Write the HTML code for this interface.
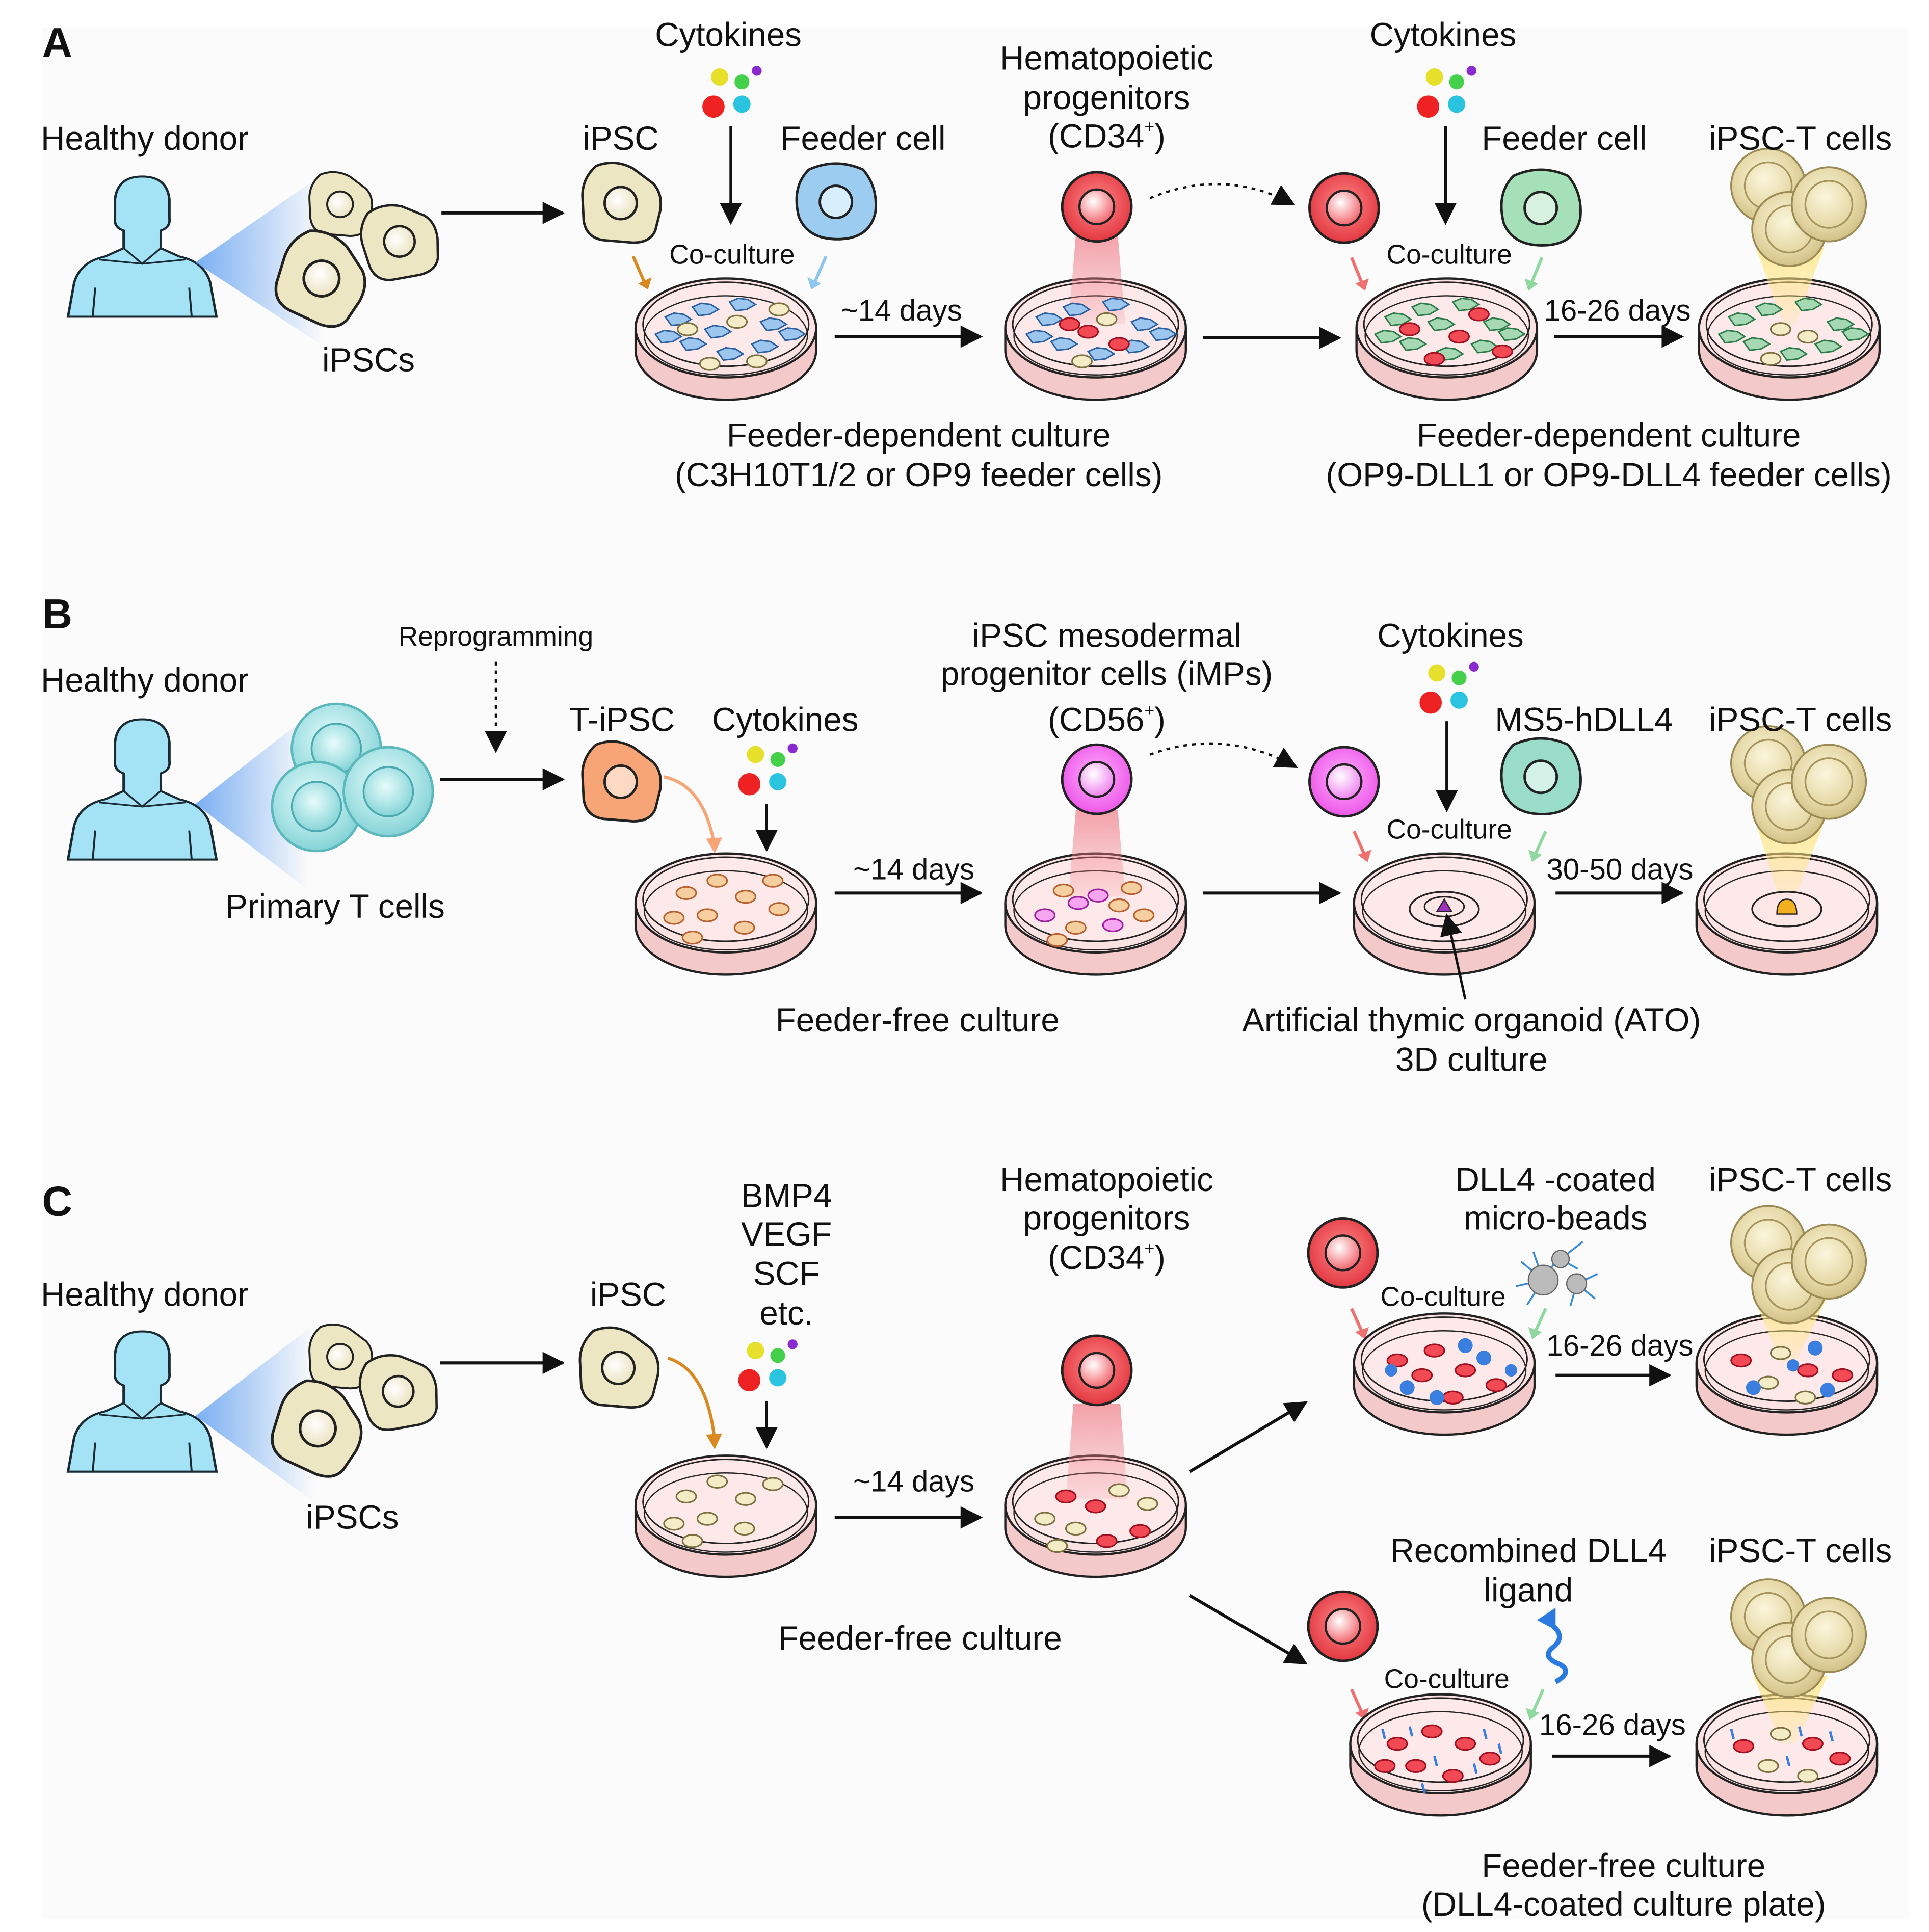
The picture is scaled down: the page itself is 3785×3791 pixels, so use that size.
<!DOCTYPE html>
<html><head><meta charset="utf-8"><style>
html,body{margin:0;padding:0;background:#fff;}
svg{display:block;}
text{font-family:"Liberation Sans",Arial,sans-serif;fill:#111;}
</style></head><body>
<svg width="3785" height="3791" viewBox="0 0 1560 1562" xmlns="http://www.w3.org/2000/svg">
<defs>
<radialGradient id="nuc" cx="0.4" cy="0.4" r="0.7"><stop offset="0" stop-color="#fff"/><stop offset="1" stop-color="#e8dfb8"/></radialGradient>
<radialGradient id="redg" cx="0.5" cy="0.45" r="0.6"><stop offset="0" stop-color="#ff8a8a"/><stop offset="1" stop-color="#e0303a"/></radialGradient>
<radialGradient id="redn" cx="0.4" cy="0.35" r="0.7"><stop offset="0" stop-color="#fff"/><stop offset="1" stop-color="#f25c64"/></radialGradient>
<radialGradient id="magg" cx="0.5" cy="0.45" r="0.6"><stop offset="0" stop-color="#ffb0ff"/><stop offset="1" stop-color="#ec4fe6"/></radialGradient>
<radialGradient id="magn" cx="0.4" cy="0.35" r="0.7"><stop offset="0" stop-color="#fff"/><stop offset="1" stop-color="#f07cf0"/></radialGradient>
<radialGradient id="teal" cx="0.45" cy="0.4" r="0.65"><stop offset="0" stop-color="#e8fbfb"/><stop offset="0.6" stop-color="#a9e3e5"/><stop offset="1" stop-color="#7ccfd3"/></radialGradient>
<radialGradient id="tan" cx="0.45" cy="0.4" r="0.65"><stop offset="0" stop-color="#fbf6dc"/><stop offset="0.6" stop-color="#e6d9a8"/><stop offset="1" stop-color="#cdbb80"/></radialGradient>
<linearGradient id="cone" x1="0" x2="1"><stop offset="0" stop-color="#5a9cf0"/><stop offset="1" stop-color="#5a9cf0" stop-opacity="0"/></linearGradient>
<linearGradient id="pcone" x1="0" y1="0" x2="0" y2="1"><stop offset="0" stop-color="#f07a85" stop-opacity="0.7"/><stop offset="1" stop-color="#f07a85" stop-opacity="0.15"/></linearGradient>
<linearGradient id="ycone" x1="0" y1="0" x2="0" y2="1"><stop offset="0" stop-color="#ffe680" stop-opacity="0.8"/><stop offset="1" stop-color="#ffe680" stop-opacity="0.2"/></linearGradient>
<marker id="ahb" viewBox="0 0 10 10" markerWidth="22" markerHeight="18" refX="9" refY="5" orient="auto" markerUnits="userSpaceOnUse"><path d="M0,0 L10,5 L0,10 z" fill="#111"/></marker>
<g id="person">
 <path d="M0,113 L5,80 Q10,60 30,55 L45,47 L45,30 Q37,27 38,18 L38,0 Q40,-22 60,-22 Q80,-22 82,0 L82,18 Q83,27 75,30 L75,47 L90,55 Q110,60 115,80 L120,113 Z" fill="#a4e3f5" stroke="#1a2a33" stroke-width="2"/>
 <path d="M45,47 L60,62 L75,47 M25,58 L60,62 L95,58 M20,113 L22,85 M100,113 L98,85" fill="none" stroke="#1a2a33" stroke-width="1.6"/>
</g>
<g id="ipsc">
 <path d="M-20,-30 Q-5,-36 10,-28 L26,-16 Q34,-8 32,6 L28,22 Q24,32 10,32 L-14,30 Q-28,28 -30,14 L-31,-6 Q-31,-20 -20,-30 Z" fill="#ede6c2" stroke="#222" stroke-width="2"/>
 <circle r="13" fill="url(#nuc)" stroke="#222" stroke-width="2"/>
</g>
<g id="red"><circle r="28" fill="url(#redg)" stroke="#222" stroke-width="2"/><circle r="14" fill="url(#redn)" stroke="#222" stroke-width="1.8"/></g>
<g id="mag"><circle r="28" fill="url(#magg)" stroke="#222" stroke-width="2"/><circle r="14" fill="url(#magn)" stroke="#222" stroke-width="1.8"/></g>
<g id="feedB"><path d="M-22,-26 Q0,-36 22,-26 Q34,-12 32,8 Q28,28 6,30 Q-22,32 -30,12 Q-36,-12 -22,-26Z" fill="#9ccdf0" stroke="#222" stroke-width="2"/><circle r="13" fill="#d8eefc" stroke="#222" stroke-width="2"/></g>
<g id="feedG"><path d="M-22,-26 Q0,-36 22,-26 Q34,-12 32,8 Q28,28 6,30 Q-22,32 -30,12 Q-36,-12 -22,-26Z" fill="#a6e0b8" stroke="#222" stroke-width="2"/><circle r="13" fill="#d6f2de" stroke="#222" stroke-width="2"/></g>
<g id="feedT"><path d="M-22,-26 Q0,-36 22,-26 Q34,-12 32,8 Q28,28 6,30 Q-22,32 -30,12 Q-36,-12 -22,-26Z" fill="#99dcc8" stroke="#222" stroke-width="2"/><circle r="13" fill="#d3f1e6" stroke="#222" stroke-width="2"/></g>
<g id="orange"><path d="M-20,-30 Q-5,-36 10,-28 L26,-16 Q34,-8 32,6 L28,22 Q24,32 10,32 L-14,30 Q-28,28 -30,14 L-31,-6 Q-31,-20 -20,-30 Z" fill="#f7a577" stroke="#222" stroke-width="2"/><circle r="13" fill="#fcd9c2" stroke="#222" stroke-width="2"/></g>
<g id="teals"><circle r="36" fill="url(#teal)" stroke="#5bb8bd" stroke-width="2"/><circle r="20" fill="url(#teal)" stroke="#4aaab0" stroke-width="1.5"/></g>
<g id="dish">
 <path d="M-73,0 L-73,18 A73,40 0 0 0 73,18 L73,0" fill="#f4c9c9" stroke="#222" stroke-width="1.8"/>
 <ellipse cx="0" cy="0" rx="73" ry="40" fill="#fbe2e2" stroke="#222" stroke-width="1.8"/>
 <ellipse cx="0" cy="-3" rx="67" ry="34" fill="#fde9e9" stroke="#222" stroke-width="1.2"/>
 <ellipse cx="0" cy="6" rx="66" ry="32" fill="none" stroke="#222" stroke-width="1"/>
</g>
<g id="mc"><ellipse rx="8" ry="5" fill="#f6cfa0" stroke="#b86030" stroke-width="1.3"/></g>
<g id="rc"><ellipse rx="8" ry="5" fill="#f24a55" stroke="#a01020" stroke-width="1.3"/></g>
<g id="yc"><ellipse rx="8" ry="5" fill="#f3ecc6" stroke="#7a7040" stroke-width="1.3"/></g>
<g id="pc"><ellipse rx="8" ry="5" fill="#f6a6f0" stroke="#a020a0" stroke-width="1.3"/></g>
<g id="bc"><path d="M-10,-2 L-3,-5 L5,-4 L11,0 L4,4 L-5,5 Z" fill="#9cc6ee" stroke="#2a5fa0" stroke-width="1.2"/></g>
<g id="gc"><path d="M-10,-2 L-3,-5 L5,-4 L11,0 L4,4 L-5,5 Z" fill="#a6d8b4" stroke="#2a7a48" stroke-width="1.2"/></g>
<g id="dots">
 <circle cx="-8" cy="-22" r="7" fill="#e6e02a"/><circle cx="10" cy="-18" r="6" fill="#44d04a"/><circle cx="22" cy="-27" r="4" fill="#8a2ad0"/>
 <circle cx="-13" cy="2" r="9" fill="#ee2222"/><circle cx="10" cy="0" r="7" fill="#2ac4e0"/>
</g>
<g id="cluster">
 <circle cx="-17" cy="-15" r="30" fill="url(#tan)" stroke="#9a8a55" stroke-width="1.5"/><circle cx="-17" cy="-15" r="19" fill="none" stroke="#a8955d" stroke-width="1.4"/>
 <circle cx="0" cy="20" r="30" fill="url(#tan)" stroke="#9a8a55" stroke-width="1.5"/><circle cx="0" cy="20" r="19" fill="none" stroke="#a8955d" stroke-width="1.4"/>
 <circle cx="32" cy="0" r="30" fill="url(#tan)" stroke="#9a8a55" stroke-width="1.5"/><circle cx="32" cy="0" r="19" fill="none" stroke="#a8955d" stroke-width="1.4"/>
</g>
</defs>

<rect x="0" y="0" width="1560" height="1562" fill="#fff"/>
<rect x="34" y="22" width="1510" height="1530" fill="#fbfbfb"/>

<!-- ============ PANEL A ============ -->
<text x="34" y="46" font-size="34" font-weight="bold" fill="#333">A</text>
<text x="33" y="121" font-size="27">Healthy donor</text>
<g transform="translate(55,161) scale(1,0.84)"><use href="#person"/></g>
<polygon points="158,212 262,140 262,280" fill="url(#cone)" opacity="0.8"/>
<g transform="translate(275,165) scale(0.8)"><use href="#ipsc"/></g>
<g transform="translate(260,225) scale(1.1) rotate(20)"><use href="#ipsc"/></g>
<g transform="translate(323,195) scale(0.95) rotate(-15)"><use href="#ipsc"/></g>
<text x="298" y="300" font-size="27" text-anchor="middle">iPSCs</text>
<line x1="357" y1="172" x2="455" y2="172" stroke="#111" stroke-width="2.5" marker-end="url(#ahb)"/>
<text x="502" y="121" font-size="27" text-anchor="middle">iPSC</text>
<use href="#ipsc" x="502" y="164"/>
<text x="589" y="37" font-size="27" text-anchor="middle">Cytokines</text>
<use href="#dots" x="590" y="84"/>
<line x1="591" y1="102" x2="591" y2="180" stroke="#111" stroke-width="2.2" marker-end="url(#ahb)"/>
<text x="698" y="121" font-size="27" text-anchor="middle">Feeder cell</text>
<use href="#feedB" x="676" y="163"/>
<text x="592" y="213" font-size="22" text-anchor="middle">Co-culture</text>
<line x1="512" y1="207" x2="522" y2="230" stroke="#d88a20" stroke-width="2.5"/><path d="M516,229 L524,234 L527,224z" fill="#d88a20"/>
<line x1="668" y1="207" x2="658" y2="230" stroke="#8ec6ee" stroke-width="2.5"/><path d="M653,224 L656,234 L664,229z" fill="#8ec6ee"/>

<use href="#dish" x="587" y="265"/>
<g>
<use href="#bc" x="548" y="258"/><use href="#bc" x="570" y="250"/><use href="#bc" x="600" y="246"/><use href="#bc" x="625" y="262"/><use href="#bc" x="560" y="278"/><use href="#bc" x="590" y="286"/><use href="#bc" x="618" y="280"/><use href="#bc" x="540" y="272"/><use href="#bc" x="640" y="270"/><use href="#bc" x="580" y="268"/>
<use href="#yc" x="556" y="266"/><use href="#yc" x="596" y="260"/><use href="#yc" x="612" y="292"/><use href="#yc" x="574" y="294"/><use href="#yc" x="630" y="250"/>
</g>
<text x="729" y="259" font-size="24" text-anchor="middle">~14 days</text>
<line x1="675" y1="272" x2="793" y2="272" stroke="#111" stroke-width="2.5" marker-end="url(#ahb)"/>

<use href="#dish" x="886" y="265"/>
<polygon points="870,190 904,190 910,262 864,262" fill="url(#pcone)"/>
<use href="#red" x="887" y="167"/>
<g>
<use href="#bc" x="848" y="258"/><use href="#bc" x="870" y="250"/><use href="#bc" x="902" y="246"/><use href="#bc" x="925" y="262"/><use href="#bc" x="860" y="278"/><use href="#bc" x="890" y="286"/><use href="#bc" x="918" y="280"/><use href="#bc" x="840" y="272"/><use href="#bc" x="940" y="270"/>
<use href="#rc" x="880" y="268"/><use href="#rc" x="905" y="278"/><use href="#rc" x="865" y="262"/><use href="#yc" x="895" y="258"/><use href="#yc" x="875" y="292"/>
</g>
<text x="895" y="56" font-size="27" text-anchor="middle">Hematopoietic</text>
<text x="895" y="88" font-size="27" text-anchor="middle">progenitors</text>
<text x="895" y="119" font-size="27" text-anchor="middle">(CD34<tspan font-size="14" dy="-12">+</tspan><tspan dy="12">)</tspan></text>
<path d="M930,160 Q990,135 1046,165" fill="none" stroke="#111" stroke-width="1.8" stroke-dasharray="3,4" marker-end="url(#ahb)"/>
<line x1="973" y1="273" x2="1083" y2="273" stroke="#111" stroke-width="2.5" marker-end="url(#ahb)"/>

<use href="#red" x="1087" y="168"/>
<text x="1167" y="37" font-size="27" text-anchor="middle">Cytokines</text>
<use href="#dots" x="1168" y="84"/>
<line x1="1169" y1="102" x2="1169" y2="180" stroke="#111" stroke-width="2.2" marker-end="url(#ahb)"/>
<text x="1265" y="121" font-size="27" text-anchor="middle">Feeder cell</text>
<use href="#feedG" x="1246" y="168"/>
<text x="1172" y="213" font-size="22" text-anchor="middle">Co-culture</text>
<line x1="1093" y1="208" x2="1102" y2="230" stroke="#f07070" stroke-width="2.5"/><path d="M1096,229 L1104,235 L1107,225z" fill="#f07070"/>
<line x1="1247" y1="208" x2="1238" y2="230" stroke="#8fd8a0" stroke-width="2.5"/><path d="M1233,225 L1236,235 L1244,229z" fill="#8fd8a0"/>
<use href="#dish" x="1170" y="265"/>
<g>
<use href="#gc" x="1130" y="258"/><use href="#gc" x="1152" y="250"/><use href="#gc" x="1185" y="246"/><use href="#gc" x="1210" y="262"/><use href="#gc" x="1142" y="278"/><use href="#gc" x="1172" y="286"/><use href="#gc" x="1200" y="280"/><use href="#gc" x="1122" y="272"/><use href="#gc" x="1222" y="270"/><use href="#gc" x="1165" y="262"/>
<use href="#rc" x="1140" y="266"/><use href="#rc" x="1180" y="272"/><use href="#rc" x="1196" y="254"/><use href="#rc" x="1160" y="290"/><use href="#rc" x="1215" y="284"/>
</g>
<text x="1308" y="259" font-size="24" text-anchor="middle">16-26 days</text>
<line x1="1257" y1="272" x2="1360" y2="272" stroke="#111" stroke-width="2.5" marker-end="url(#ahb)"/>
<use href="#dish" x="1447" y="265"/>
<polygon points="1420,200 1475,200 1452,262 1442,262" fill="url(#ycone)"/>
<g>
<use href="#gc" x="1408" y="258"/><use href="#gc" x="1430" y="250"/><use href="#gc" x="1462" y="246"/><use href="#gc" x="1488" y="262"/><use href="#gc" x="1420" y="278"/><use href="#gc" x="1450" y="286"/><use href="#gc" x="1478" y="280"/><use href="#gc" x="1400" y="272"/><use href="#gc" x="1500" y="270"/>
<use href="#yc" x="1440" y="266"/><use href="#yc" x="1462" y="272"/><use href="#yc" x="1432" y="290"/>
</g>
<use href="#cluster" x="1447" y="165"/>
<text x="1456" y="121" font-size="27" text-anchor="middle">iPSC-T cells</text>
<text x="743" y="361" font-size="27" text-anchor="middle">Feeder-dependent culture</text>
<text x="743" y="393" font-size="27" text-anchor="middle">(C3H10T1/2 or OP9 feeder cells)</text>
<text x="1301" y="361" font-size="27" text-anchor="middle">Feeder-dependent culture</text>
<text x="1301" y="393" font-size="27" text-anchor="middle">(OP9-DLL1 or OP9-DLL4 feeder cells)</text>

<!-- ============ PANEL B ============ -->
<text x="34" y="508" font-size="34" font-weight="bold" fill="#333">B</text>
<text x="401" y="522" font-size="22" text-anchor="middle">Reprogramming</text>
<line x1="401" y1="535" x2="401" y2="607" stroke="#111" stroke-width="1.8" stroke-dasharray="3,4" marker-end="url(#ahb)"/>
<text x="33" y="559" font-size="27">Healthy donor</text>
<g transform="translate(55,600) scale(1,0.84)"><use href="#person"/></g>
<polygon points="158,650 250,578 250,720" fill="url(#cone)" opacity="0.8"/>
<use href="#teals" x="272" y="605"/>
<use href="#teals" x="256" y="652"/>
<use href="#teals" x="314" y="640"/>
<text x="271" y="742" font-size="27" text-anchor="middle">Primary T cells</text>
<line x1="356" y1="630" x2="455" y2="630" stroke="#111" stroke-width="2.5" marker-end="url(#ahb)"/>
<text x="503" y="591" font-size="27" text-anchor="middle">T-iPSC</text>
<use href="#orange" x="502" y="632"/>
<path d="M537,628 Q570,635 578,685" fill="none" stroke="#f7a577" stroke-width="2.5"/><path d="M571,678 L578,690 L584,677z" fill="#f7a577"/>
<text x="635" y="591" font-size="27" text-anchor="middle">Cytokines</text>
<use href="#dots" x="619" y="632"/>
<line x1="620" y1="650" x2="620" y2="687" stroke="#111" stroke-width="2.2" marker-end="url(#ahb)"/>
<use href="#dish" x="587" y="730"/>
<g>
<use href="#mc" x="555" y="722"/><use href="#mc" x="580" y="712"/><use href="#mc" x="603" y="725"/><use href="#mc" x="625" y="712"/><use href="#mc" x="572" y="740"/><use href="#mc" x="602" y="750"/><use href="#mc" x="545" y="742"/><use href="#mc" x="630" y="735"/><use href="#mc" x="560" y="758"/>
</g>
<text x="739" y="711" font-size="24" text-anchor="middle">~14 days</text>
<line x1="675" y1="722" x2="793" y2="722" stroke="#111" stroke-width="2.5" marker-end="url(#ahb)"/>
<use href="#dish" x="886" y="730"/>
<polygon points="870,655 904,655 910,725 864,725" fill="url(#pcone)"/>
<g>
<use href="#pc" x="845" y="740"/><use href="#pc" x="872" y="730"/><use href="#pc" x="900" y="748"/><use href="#pc" x="888" y="724"/><use href="#mc" x="860" y="720"/><use href="#mc" x="905" y="732"/><use href="#mc" x="925" y="740"/><use href="#mc" x="870" y="750"/><use href="#mc" x="915" y="718"/><use href="#mc" x="855" y="760"/>
</g>
<use href="#mag" x="887" y="630"/>
<text x="895" y="523" font-size="27" text-anchor="middle">iPSC mesodermal</text>
<text x="895" y="554" font-size="27" text-anchor="middle">progenitor cells (iMPs)</text>
<text x="895" y="591" font-size="27" text-anchor="middle">(CD56<tspan font-size="14" dy="-12">+</tspan><tspan dy="12">)</tspan></text>
<path d="M930,610 Q990,588 1048,620" fill="none" stroke="#111" stroke-width="1.8" stroke-dasharray="3,4" marker-end="url(#ahb)"/>
<line x1="973" y1="722" x2="1083" y2="722" stroke="#111" stroke-width="2.5" marker-end="url(#ahb)"/>
<use href="#mag" x="1087" y="632"/>
<text x="1173" y="523" font-size="27" text-anchor="middle">Cytokines</text>
<use href="#dots" x="1170" y="566"/>
<line x1="1170" y1="583" x2="1170" y2="655" stroke="#111" stroke-width="2.2" marker-end="url(#ahb)"/>
<text x="1281" y="591" font-size="27" text-anchor="middle">MS5-hDLL4</text>
<use href="#feedT" x="1246" y="628"/>
<text x="1172" y="678" font-size="22" text-anchor="middle">Co-culture</text>
<line x1="1095" y1="672" x2="1104" y2="692" stroke="#f07070" stroke-width="2.5"/><path d="M1098,691 L1106,697 L1109,687z" fill="#f07070"/>
<line x1="1250" y1="672" x2="1241" y2="692" stroke="#8fd8a0" stroke-width="2.5"/><path d="M1236,687 L1239,697 L1247,691z" fill="#8fd8a0"/>
<use href="#dish" x="1168" y="730"/>
<ellipse cx="1168" cy="735" rx="28" ry="14" fill="#fde6e6" stroke="#222" stroke-width="1.4"/>
<ellipse cx="1168" cy="733" rx="16" ry="8" fill="#fde6e6" stroke="#222" stroke-width="1.2"/>
<path d="M1162,737 L1168,727 L1174,737z" fill="#a030c0" stroke="#222" stroke-width="1"/>
<line x1="1185" y1="808" x2="1170" y2="740" stroke="#111" stroke-width="2" marker-end="url(#ahb)"/>
<text x="1310" y="711" font-size="24" text-anchor="middle">30-50 days</text>
<line x1="1258" y1="722" x2="1360" y2="722" stroke="#111" stroke-width="2.5" marker-end="url(#ahb)"/>
<use href="#dish" x="1445" y="730"/>
<polygon points="1420,665 1475,665 1450,730 1440,730" fill="url(#ycone)"/>
<ellipse cx="1445" cy="735" rx="28" ry="14" fill="#fde6e6" stroke="#222" stroke-width="1.4"/>
<path d="M1437,739 Q1437,727 1445,727 Q1453,727 1453,739z" fill="#f0b020" stroke="#222" stroke-width="1"/>
<use href="#cluster" x="1447" y="632"/>
<text x="1456" y="591" font-size="27" text-anchor="middle">iPSC-T cells</text>
<text x="742" y="834" font-size="27" text-anchor="middle">Feeder-free culture</text>
<text x="1190" y="834" font-size="27" text-anchor="middle">Artificial thymic organoid (ATO)</text>
<text x="1190" y="866" font-size="27" text-anchor="middle">3D culture</text>

<!-- ============ PANEL C ============ -->
<text x="34" y="983" font-size="34" font-weight="bold" fill="#333">C</text>
<text x="33" y="1056" font-size="27">Healthy donor</text>
<g transform="translate(55,1095) scale(1,0.84)"><use href="#person"/></g>
<polygon points="158,1145 255,1070 255,1215" fill="url(#cone)" opacity="0.8"/>
<g transform="translate(275,1097) scale(0.8)"><use href="#ipsc"/></g>
<g transform="translate(257,1155) scale(1.1) rotate(20)"><use href="#ipsc"/></g>
<g transform="translate(322,1125) scale(0.95) rotate(-15)"><use href="#ipsc"/></g>
<text x="285" y="1236" font-size="27" text-anchor="middle">iPSCs</text>
<line x1="356" y1="1102" x2="455" y2="1102" stroke="#111" stroke-width="2.5" marker-end="url(#ahb)"/>
<text x="508" y="1056" font-size="27" text-anchor="middle">iPSC</text>
<use href="#ipsc" x="500" y="1106"/>
<path d="M540,1098 Q572,1108 578,1165" fill="none" stroke="#d88a20" stroke-width="2.5"/><path d="M571,1160 L578,1172 L584,1159z" fill="#d88a20"/>
<text x="636" y="976" font-size="27" text-anchor="middle">BMP4</text>
<text x="636" y="1007" font-size="27" text-anchor="middle">VEGF</text>
<text x="636" y="1039" font-size="27" text-anchor="middle">SCF</text>
<text x="636" y="1071" font-size="27" text-anchor="middle">etc.</text>
<use href="#dots" x="619" y="1114"/>
<line x1="620" y1="1133" x2="620" y2="1170" stroke="#111" stroke-width="2.2" marker-end="url(#ahb)"/>
<use href="#dish" x="587" y="1217"/>
<g>
<use href="#yc" x="555" y="1210"/><use href="#yc" x="580" y="1198"/><use href="#yc" x="603" y="1212"/><use href="#yc" x="625" y="1200"/><use href="#yc" x="572" y="1228"/><use href="#yc" x="602" y="1236"/><use href="#yc" x="545" y="1232"/><use href="#yc" x="560" y="1246"/>
</g>
<text x="739" y="1206" font-size="24" text-anchor="middle">~14 days</text>
<line x1="675" y1="1227" x2="793" y2="1227" stroke="#111" stroke-width="2.5" marker-end="url(#ahb)"/>
<use href="#dish" x="886" y="1217"/>
<polygon points="868,1135 906,1135 912,1212 862,1212" fill="url(#pcone)"/>
<g>
<use href="#yc" x="845" y="1228"/><use href="#rc" x="862" y="1210"/><use href="#rc" x="886" y="1218"/><use href="#yc" x="905" y="1205"/><use href="#yc" x="928" y="1216"/><use href="#yc" x="870" y="1236"/><use href="#rc" x="895" y="1246"/><use href="#rc" x="922" y="1238"/><use href="#yc" x="855" y="1250"/>
</g>
<use href="#red" x="887" y="1108"/>
<text x="895" y="963" font-size="27" text-anchor="middle">Hematopoietic</text>
<text x="895" y="994" font-size="27" text-anchor="middle">progenitors</text>
<text x="895" y="1026" font-size="27" text-anchor="middle">(CD34<tspan font-size="14" dy="-12">+</tspan><tspan dy="12">)</tspan></text>
<text x="744" y="1334" font-size="27" text-anchor="middle">Feeder-free culture</text>
<line x1="962" y1="1190" x2="1056" y2="1134" stroke="#111" stroke-width="2.5" marker-end="url(#ahb)"/>
<line x1="962" y1="1290" x2="1056" y2="1345" stroke="#111" stroke-width="2.5" marker-end="url(#ahb)"/>

<!-- upper branch -->
<use href="#red" x="1086" y="1013"/>
<text x="1258" y="963" font-size="27" text-anchor="middle">DLL4 -coated</text>
<text x="1258" y="994" font-size="27" text-anchor="middle">micro-beads</text>
<g stroke="#3a8ad8" stroke-width="1.5">
<line x1="1248" y1="1035" x2="1230" y2="1020"/><line x1="1248" y1="1035" x2="1226" y2="1040"/><line x1="1248" y1="1035" x2="1240" y2="1012"/><line x1="1248" y1="1035" x2="1262" y2="1014"/><line x1="1248" y1="1035" x2="1235" y2="1055"/><line x1="1275" y1="1038" x2="1292" y2="1030"/><line x1="1275" y1="1038" x2="1290" y2="1050"/><line x1="1275" y1="1038" x2="1270" y2="1056"/><line x1="1262" y1="1018" x2="1280" y2="1004"/><line x1="1262" y1="1018" x2="1276" y2="1026"/>
</g>
<circle cx="1248" cy="1035" r="12" fill="#bbb" stroke="#666"/><circle cx="1275" cy="1038" r="8" fill="#bbb" stroke="#666"/><circle cx="1262" cy="1018" r="7" fill="#bbb" stroke="#666"/>
<text x="1167" y="1056" font-size="22" text-anchor="middle">Co-culture</text>
<line x1="1093" y1="1058" x2="1102" y2="1078" stroke="#f07070" stroke-width="2.5"/><path d="M1096,1077 L1104,1083 L1107,1073z" fill="#f07070"/>
<line x1="1250" y1="1058" x2="1241" y2="1078" stroke="#8fd8a0" stroke-width="2.5"/><path d="M1236,1073 L1239,1083 L1247,1077z" fill="#8fd8a0"/>
<use href="#dish" x="1168" y="1102"/>
<g>
<use href="#rc" x="1130" y="1100"/><use href="#rc" x="1160" y="1092"/><use href="#rc" x="1150" y="1112"/><use href="#rc" x="1185" y="1108"/><use href="#rc" x="1175" y="1130"/><use href="#rc" x="1210" y="1120"/>
<g fill="#3a7ee0"><circle cx="1138" cy="1122" r="6"/><circle cx="1185" cy="1088" r="6"/><circle cx="1162" cy="1130" r="6"/><circle cx="1200" cy="1098" r="6"/><circle cx="1222" cy="1108" r="5"/><circle cx="1125" cy="1108" r="5"/></g>
</g>
<text x="1310" y="1096" font-size="24" text-anchor="middle">16-26 days</text>
<line x1="1258" y1="1112" x2="1350" y2="1112" stroke="#111" stroke-width="2.5" marker-end="url(#ahb)"/>
<use href="#dish" x="1445" y="1102"/>
<polygon points="1418,1048 1478,1048 1452,1102 1440,1102" fill="url(#ycone)"/>
<g>
<use href="#rc" x="1408" y="1100"/><use href="#yc" x="1440" y="1094"/><use href="#rc" x="1462" y="1108"/><use href="#yc" x="1430" y="1118"/><use href="#rc" x="1490" y="1112"/><use href="#yc" x="1460" y="1130"/>
<g fill="#3a7ee0"><circle cx="1418" cy="1122" r="6"/><circle cx="1468" cy="1090" r="6"/><circle cx="1478" cy="1124" r="6"/><circle cx="1450" cy="1104" r="5"/></g>
</g>
<use href="#cluster" x="1447" y="1020"/>
<text x="1456" y="963" font-size="27" text-anchor="middle">iPSC-T cells</text>

<!-- lower branch -->
<use href="#red" x="1086" y="1315"/>
<text x="1236" y="1263" font-size="27" text-anchor="middle">Recombined DLL4</text>
<text x="1236" y="1295" font-size="27" text-anchor="middle">ligand</text>
<path d="M1243,1310 L1258,1300 L1258,1318 Z" fill="#2a7ae0"/>
<path d="M1252,1312 Q1268,1322 1256,1332 Q1246,1340 1262,1346 Q1272,1352 1258,1360" fill="none" stroke="#2a7ae0" stroke-width="4"/>
<text x="1170" y="1365" font-size="22" text-anchor="middle">Co-culture</text>
<line x1="1093" y1="1366" x2="1102" y2="1386" stroke="#f07070" stroke-width="2.5"/><path d="M1096,1385 L1104,1391 L1107,1381z" fill="#f07070"/>
<line x1="1248" y1="1366" x2="1239" y2="1386" stroke="#8fd8a0" stroke-width="2.5"/><path d="M1234,1381 L1237,1391 L1245,1385z" fill="#8fd8a0"/>
<use href="#dish" x="1165" y="1410"/>
<g>
<use href="#rc" x="1130" y="1410"/><use href="#rc" x="1158" y="1400"/><use href="#rc" x="1185" y="1410"/><use href="#rc" x="1145" y="1428"/><use href="#rc" x="1175" y="1436"/><use href="#rc" x="1205" y="1422"/><use href="#rc" x="1120" y="1428"/>
<g stroke="#3a7ee0" stroke-width="2"><line x1="1118" y1="1398" x2="1120" y2="1406"/><line x1="1140" y1="1396" x2="1142" y2="1404"/><line x1="1200" y1="1398" x2="1202" y2="1406"/><line x1="1160" y1="1420" x2="1162" y2="1428"/><line x1="1192" y1="1426" x2="1194" y2="1434"/><line x1="1212" y1="1410" x2="1214" y2="1418"/><line x1="1150" y1="1442" x2="1152" y2="1450"/></g>
</g>
<text x="1304" y="1403" font-size="24" text-anchor="middle">16-26 days</text>
<line x1="1255" y1="1420" x2="1350" y2="1420" stroke="#111" stroke-width="2.5" marker-end="url(#ahb)"/>
<use href="#dish" x="1445" y="1410"/>
<polygon points="1418,1355 1478,1355 1452,1410 1440,1410" fill="url(#ycone)"/>
<g>
<use href="#rc" x="1410" y="1412"/><use href="#yc" x="1440" y="1402"/><use href="#rc" x="1466" y="1410"/><use href="#yc" x="1430" y="1428"/><use href="#rc" x="1488" y="1422"/><use href="#yc" x="1462" y="1436"/>
<g stroke="#3a7ee0" stroke-width="2"><line x1="1400" y1="1398" x2="1402" y2="1406"/><line x1="1455" y1="1396" x2="1457" y2="1404"/><line x1="1480" y1="1400" x2="1482" y2="1408"/><line x1="1445" y1="1420" x2="1447" y2="1428"/></g>
</g>
<use href="#cluster" x="1447" y="1322"/>
<text x="1456" y="1263" font-size="27" text-anchor="middle">iPSC-T cells</text>
<text x="1313" y="1518" font-size="27" text-anchor="middle">Feeder-free culture</text>
<text x="1313" y="1549" font-size="27" text-anchor="middle">(DLL4-coated culture plate)</text>
</svg>
</body></html>
